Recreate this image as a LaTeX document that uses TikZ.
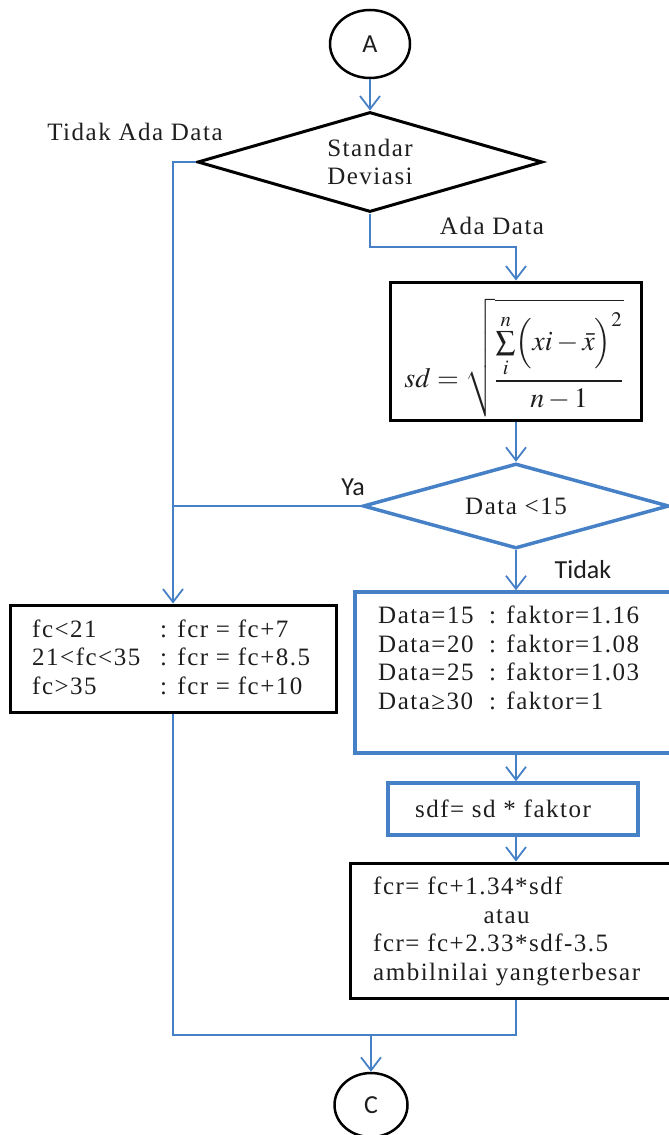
\documentclass[tikz,border=0pt]{standalone}
\usepackage{mathptmx}
\usepackage[no-math]{fontspec}
\setmainfont{Liberation Serif}
\newfontfamily\serifsp{Liberation Serif}[LetterSpace=6]
\newfontfamily\sanssp{Carlito}
\usetikzlibrary{shapes.geometric,arrows.meta,calc}
\definecolor{flowblue}{RGB}{70,128,198}
\definecolor{inkgray}{RGB}{30,30,30}
\tikzset{
  every node/.style={font=\serifsp\fontsize{25}{28.5}\selectfont, text=inkgray},
  link/.style={draw=flowblue, line width=1.8pt},
  arr/.style={link, -{Straight Barb[length=13pt,width=20pt,line width=1.8pt]}},
  blackbox/.style={draw=black, line width=3pt, rectangle, inner sep=0pt},
  bluebox/.style={draw=flowblue, line width=3.5pt, rectangle, inner sep=0pt},
  term/.style={ellipse, draw=black, line width=2.5pt, inner sep=0pt,
    font=\sanssp\fontsize{26}{30}\selectfont},
  decision/.style={diamond, inner sep=0pt, align=center},
  sanslabel/.style={font=\sanssp\fontsize{26}{30}\selectfont},
  body/.style={anchor=west, inner sep=0pt}
}
\begin{document}
\begin{tikzpicture}[x=1pt,y=-1pt]
\path[use as bounding box] (0,0) rectangle (669,1135);

% terminals and decisions
\node[term, minimum width=80pt, minimum height=68pt] (A) at (370,44) {A};
\node[decision, draw=black, line width=3pt, aspect=3.45,
  minimum width=345pt, minimum height=100pt] (sd0) at (370,162) {Standar\\Deviasi};
\node (noData) at (135,132) {Tidak Ada Data};
\node (yesData) at (492,226) {Ada Data};

% standard deviation formula
\node[blackbox, minimum width=251pt, minimum height=138pt] (sdbox) at (516,351) {};
\node[font=\fontsize{28}{32}\selectfont] (sdformula) at (514,358)
  {$\displaystyle sd=\sqrt{\frac{\sum\limits_{i}^{n}\Bigl(xi-\bar{x}\Bigr)^{2}}{n-1}}$};

\node[decision, draw=flowblue, line width=3.5pt, aspect=3.6,
  minimum width=306pt, minimum height=85pt] (lt) at (516,506) {Data <15};
\node[sanslabel] (ya) at (353,487) {Ya};
\node[sanslabel] (tidak) at (583,570) {Tidak};

% fcr for no data
\node[blackbox, minimum width=326pt, minimum height=107pt] (fcbox) at (173,658.5) {};
\node[body] (fctext) at (32,660) {\begin{tabular}{@{}p{128pt}@{}l@{}}
fc<21 & : fcr = fc+7\\
21<fc<35 & : fcr = fc+8.5\\
fc>35 & : fcr = fc+10
\end{tabular}};

% correction factor
\node[bluebox, minimum width=325pt, minimum height=161pt] (fkbox) at (517.5,672.5) {};
\node[body] (fktext) at (378,661) {\begin{tabular}{@{}p{111pt}@{}l@{}}
Data=15 & : faktor=1.16\\
Data=20 & : faktor=1.08\\
Data=25 & : faktor=1.03\\
Data≥30 & : faktor=1
\end{tabular}};

\node[bluebox, minimum width=250pt, minimum height=52pt] (sdfbox) at (513,809)
  {\hspace*{-20pt}sdf= sd * faktor};

\node[blackbox, minimum width=340pt, minimum height=135pt] (fcrbox) at (520,930.5) {};
\node[body] (fcrtext) at (373,932) {\begin{tabular}{@{}l@{}}
fcr= fc+1.34*sdf\\
\multicolumn{1}{@{}c@{}}{atau}\\
fcr= fc+2.33*sdf-3.5\\
ambilnilai yangterbesar
\end{tabular}};

\node[term, minimum width=73pt, minimum height=64pt] (C) at (371,1105) {C};
\coordinate (merge) at (371,1035);

% connectors
\draw[arr] (A.south) -- (sd0.north);
\draw[arr] (sd0.west) -| (fcbox.north);
\draw[arr] (sd0.south) |- ($(sd0.south)!0.5!(sdbox.north)$) -| (sdbox.north);
\draw[arr] (sdbox.south) -- (lt.north);
\draw[link] (lt.west) -- (lt.west -| fcbox.north);
\draw[arr] (lt.south) -- (lt.south |- fkbox.north);
\draw[arr] (lt.south |- fkbox.south) -- (lt.south |- sdfbox.north);
\draw[arr] (lt.south |- sdfbox.south) -- (lt.south |- fcrbox.north);
\draw[link] (fcbox.south) |- (merge);
\draw[link] (lt.south |- fcrbox.south) |- (merge);
\draw[arr] (merge) -- (C.north);
\end{tikzpicture}
\end{document}
